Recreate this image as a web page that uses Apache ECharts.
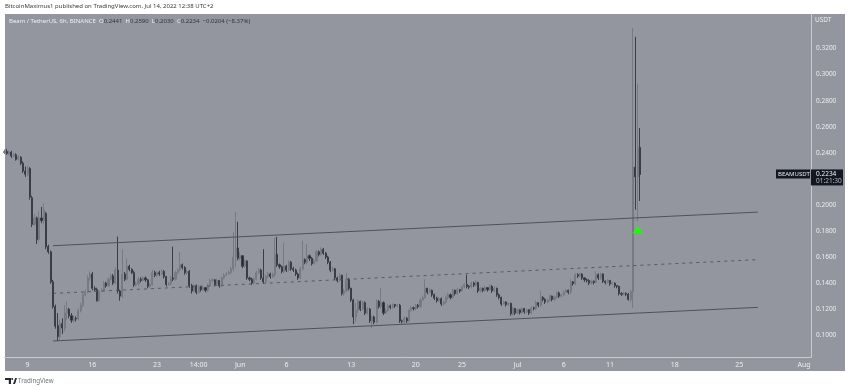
<!DOCTYPE html>
<html><head><meta charset="utf-8">
<style>html,body{margin:0;padding:0;background:#fff}#c{width:850px;height:390px}</style>
<script src="https://cdn.jsdelivr.net/npm/echarts@6/dist/echarts.min.js"></script>
</head><body><div id="c"></div>
<script>
const opens=[
.2400,.2410,.2395,.2405,.2375,.2385,.2350,.2365,.2320,.2260,
.2235,.2280,.2055,.1850,.1900,.1735,.1900,.1880,.1935,.1680,
.1640,.1410,.1220,.1075,.0990,.1090,.1055,.1170,.1200,.1150,
.1115,.1130,.1125,.1190,.1230,.1310,.1335,.1440,.1470,.1360,
.1350,.1265,.1340,.1345,.1400,.1380,.1430,.1455,.1400,.1500,
.1340,.1300,.1470,.1430,.1530,.1505,.1480,.1385,.1395,.1430,
.1420,.1440,.1425,.1375,.1390,.1480,.1460,.1480,.1470,.1490,
.1450,.1390,.1395,.1440,.1430,.1480,.1500,.1540,.1520,.1480,
.1490,.1380,.1340,.1380,.1330,.1370,.1350,.1365,.1345,.1380,
.1420,.1425,.1390,.1420,.1380,.1440,.1460,.1470,.1480,.1510,
.1600,.1670,.1590,.1610,.1530,.1570,.1440,.1430,.1400,.1430,
.1480,.1500,.1440,.1410,.1450,.1470,.1450,.1465,.1620,.1540,
.1525,.1490,.1530,.1500,.1560,.1510,.1500,.1470,.1440,.1510,
.1580,.1560,.1610,.1590,.1550,.1570,.1640,.1620,.1660,.1630,
.1600,.1560,.1500,.1510,.1440,.1420,.1460,.1320,.1340,.1430,
.1360,.1270,.1140,.1190,.1260,.1200,.1250,.1170,.1200,.1110,
.1140,.1100,.1260,.1220,.1250,.1170,.1190,.1225,.1215,.1235,
.1225,.1230,.1110,.1105,.1130,.1110,.1190,.1210,.1205,.1230,
.1220,.1270,.1290,.1360,.1330,.1345,.1310,.1285,.1265,.1280,
.1240,.1255,.1290,.1310,.1290,.1345,.1320,.1350,.1340,.1370,
.1390,.1375,.1370,.1400,.1385,.1405,.1340,.1360,.1345,.1365,
.1350,.1375,.1340,.1360,.1310,.1290,.1240,.1255,.1235,.1245,
.1165,.1205,.1170,.1195,.1175,.1205,.1180,.1195,.1170,.1210,
.1205,.1250,.1230,.1290,.1275,.1255,.1270,.1300,.1275,.1295,
.1325,.1300,.1310,.1330,.1345,.1330,.1410,.1395,.1465,.1455,
.1470,.1440,.1425,.1420,.1400,.1415,.1405,.1465,.1440,.1470,
.1415,.1405,.1420,.1395,.1400,.1380,.1375,.1320,.1315,.1320,
.1315,.1275,.1335,.2290,.2215,.2441];
const closes=[
.2410,.2395,.2405,.2375,.2385,.2350,.2365,.2320,.2260,.2235,
.2280,.2060,.1850,.1900,.1735,.1900,.1880,.1960,.1680,.1640,
.1410,.1220,.1070,.0990,.1090,.1055,.1170,.1200,.1150,.1115,
.1130,.1125,.1190,.1230,.1310,.1335,.1440,.1470,.1360,.1350,
.1265,.1340,.1345,.1400,.1380,.1430,.1455,.1400,.1500,.1340,
.1300,.1470,.1430,.1530,.1505,.1480,.1385,.1395,.1430,.1420,
.1440,.1425,.1375,.1390,.1480,.1460,.1480,.1470,.1490,.1450,
.1390,.1395,.1440,.1430,.1480,.1500,.1540,.1520,.1480,.1490,
.1380,.1340,.1380,.1330,.1370,.1350,.1365,.1345,.1380,.1420,
.1425,.1390,.1420,.1380,.1440,.1460,.1470,.1480,.1510,.1600,
.1670,.1590,.1610,.1530,.1570,.1440,.1430,.1400,.1430,.1480,
.1500,.1440,.1410,.1450,.1470,.1450,.1465,.1620,.1540,.1525,
.1490,.1530,.1500,.1560,.1510,.1500,.1470,.1440,.1510,.1580,
.1560,.1610,.1590,.1550,.1570,.1640,.1620,.1660,.1630,.1600,
.1560,.1500,.1510,.1440,.1420,.1460,.1320,.1340,.1430,.1360,
.1270,.1140,.1190,.1260,.1200,.1250,.1170,.1200,.1110,.1140,
.1100,.1260,.1220,.1250,.1170,.1190,.1225,.1215,.1235,.1225,
.1230,.1110,.1105,.1130,.1110,.1190,.1210,.1205,.1230,.1220,
.1270,.1290,.1360,.1330,.1345,.1310,.1285,.1265,.1280,.1240,
.1255,.1290,.1310,.1290,.1345,.1320,.1350,.1340,.1370,.1390,
.1375,.1370,.1400,.1385,.1405,.1340,.1360,.1345,.1365,.1350,
.1375,.1340,.1360,.1310,.1290,.1240,.1255,.1235,.1245,.1165,
.1205,.1170,.1195,.1175,.1205,.1180,.1195,.1170,.1210,.1205,
.1250,.1230,.1290,.1275,.1255,.1270,.1300,.1275,.1295,.1325,
.1300,.1310,.1330,.1345,.1330,.1410,.1395,.1465,.1455,.1470,
.1440,.1425,.1420,.1400,.1415,.1405,.1465,.1440,.1470,.1415,
.1405,.1420,.1395,.1400,.1380,.1375,.1320,.1315,.1320,.1315,
.1275,.1335,.2290,.2215,.2441,.2234];
const highs=[
.2425,.2430,.2420,.2415,.2400,.2395,.2380,.2375,.2335,.2295,
.2300,.2290,.2070,.1930,.1910,.1950,.1985,.2010,.1945,.1695,
.1650,.1425,.1235,.1170,.1120,.1130,.1230,.1260,.1210,.1170,
.1150,.1145,.1205,.1250,.1325,.1350,.1460,.1490,.1485,.1375,
.1365,.1350,.1360,.1415,.1410,.1445,.1470,.1470,.1520,.1757,
.1350,.1660,.1485,.1590,.1540,.1515,.1495,.1410,.1445,.1445,
.1455,.1450,.1430,.1400,.1500,.1495,.1495,.1495,.1505,.1500,
.1455,.1410,.1455,.1680,.1495,.1515,.1640,.1550,.1530,.1505,
.1500,.1395,.1395,.1390,.1385,.1380,.1375,.1370,.1395,.1435,
.1440,.1430,.1435,.1425,.1450,.1475,.1485,.1495,.1525,.1790,
.1945,.1870,.1640,.1615,.1585,.1575,.1450,.1440,.1445,.1495,
.1515,.1510,.1660,.1465,.1485,.1480,.1480,.1748,.1755,.1550,
.1535,.1710,.1540,.1575,.1570,.1525,.1510,.1480,.1525,.1725,
.1590,.1700,.1620,.1600,.1585,.1655,.1650,.1675,.1670,.1640,
.1610,.1570,.1525,.1515,.1450,.1475,.1465,.1355,.1480,.1440,
.1365,.1280,.1250,.1275,.1265,.1265,.1260,.1215,.1210,.1150,
.1150,.1275,.1270,.1365,.1260,.1205,.1240,.1235,.1245,.1240,
.1240,.1240,.1120,.1145,.1140,.1200,.1225,.1220,.1240,.1240,
.1285,.1305,.1430,.1365,.1360,.1350,.1320,.1295,.1295,.1290,
.1265,.1305,.1325,.1320,.1355,.1350,.1365,.1355,.1380,.1400,
.1465,.1385,.1410,.1410,.1420,.1410,.1370,.1365,.1380,.1370,
.1390,.1385,.1375,.1365,.1320,.1295,.1265,.1260,.1255,.1250,
.1220,.1210,.1205,.1200,.1215,.1210,.1205,.1200,.1220,.1220,
.1265,.1255,.1340,.1300,.1285,.1280,.1310,.1305,.1305,.1335,
.1335,.1320,.1345,.1355,.1350,.1430,.1415,.1475,.1475,.1480,
.1475,.1445,.1435,.1430,.1425,.1420,.1490,.1475,.1480,.1475,
.1420,.1430,.1425,.1410,.1405,.1385,.1380,.1330,.1335,.1330,
.1325,.1345,.3357,.3290,.2929,.2590];
const lows=[
.2390,.2385,.2385,.2360,.2365,.2340,.2340,.2305,.2245,.2215,
.2220,.2040,.1830,.1840,.1700,.1720,.1860,.1850,.1660,.1625,
.1395,.1205,.1050,.0955,.0965,.1010,.1030,.1120,.1130,.1095,
.1100,.1105,.1115,.1175,.1215,.1300,.1320,.1420,.1345,.1335,
.1258,.1255,.1330,.1335,.1365,.1370,.1420,.1385,.1390,.1320,
.1265,.1285,.1415,.1420,.1490,.1470,.1370,.1375,.1380,.1405,
.1415,.1410,.1360,.1365,.1380,.1445,.1450,.1455,.1460,.1435,
.1375,.1380,.1385,.1415,.1420,.1470,.1490,.1505,.1465,.1465,
.1365,.1320,.1330,.1315,.1320,.1335,.1345,.1330,.1335,.1370,
.1405,.1375,.1380,.1365,.1370,.1430,.1455,.1465,.1470,.1490,
.1520,.1575,.1575,.1515,.1520,.1425,.1415,.1385,.1390,.1420,
.1470,.1425,.1395,.1400,.1440,.1435,.1440,.1450,.1525,.1510,
.1475,.1475,.1485,.1490,.1495,.1485,.1455,.1425,.1430,.1495,
.1545,.1545,.1570,.1535,.1540,.1560,.1605,.1610,.1615,.1585,
.1545,.1485,.1490,.1425,.1405,.1410,.1305,.1300,.1330,.1345,
.1255,.1085,.1100,.1170,.1185,.1190,.1155,.1160,.1095,.1055,
.1085,.1090,.1205,.1205,.1155,.1165,.1180,.1200,.1205,.1210,
.1215,.1095,.1090,.1090,.1095,.1100,.1180,.1190,.1190,.1205,
.1210,.1270,.1280,.1315,.1320,.1295,.1270,.1250,.1255,.1225,
.1230,.1245,.1275,.1275,.1280,.1305,.1310,.1325,.1335,.1360,
.1360,.1355,.1360,.1370,.1375,.1325,.1330,.1330,.1335,.1335,
.1340,.1325,.1330,.1295,.1275,.1225,.1235,.1220,.1225,.1150,
.1150,.1155,.1160,.1160,.1165,.1165,.1170,.1155,.1160,.1190,
.1195,.1215,.1220,.1260,.1240,.1245,.1260,.1260,.1265,.1285,
.1285,.1290,.1300,.1325,.1315,.1315,.1380,.1385,.1440,.1445,
.1425,.1410,.1405,.1385,.1390,.1390,.1400,.1425,.1425,.1400,
.1390,.1395,.1380,.1385,.1365,.1360,.1305,.1300,.1305,.1300,
.1265,.1255,.1210,.1963,.1873,.2030];

const barCount=350;
const tickIndexes=[10,38,66,84,102,122,150,178,198,222,242,262,290,318,346];
const tickLabels=['9','16','23','14:00','Jun','6','13','20','25','Jul','6','11','18','25','Aug'];
const priceTicks=[.10,.12,.14,.16,.18,.20,.22,.24,.26,.28,.30,.32];
const upperLine=[[21,.1687],[326,.1945]];
const middleLine=[[21,.1321],[326,.1580]];
const lowerLine=[[21,.0956],[326,.1214]];
const signalPoint=[[274,.1812]];
const lastPrice=.2234;

const categories=[];for(let i=0;i<barCount;i++)categories.push('b'+i);
const candles=opens.map((o,i)=>[o,closes[i],lows[i],highs[i]]);
const lineSeries=(data,type)=>({type:'line',data,showSymbol:false,silent:true,z:4,
  lineStyle:type==='solid'?{color:'#50525b',width:1,type}:{color:'#50525b',width:0.9,type:[3,4]}});

const chart=echarts.init(document.getElementById('c'),null,{renderer:'canvas'});
const FONT='"Noto Sans",sans-serif';
chart.setOption({
  animation:false,backgroundColor:'#fff',
  grid:{left:4.5,right:39,top:14,bottom:33,containLabel:false},
  xAxis:{type:'category',data:categories,boundaryGap:false,
    axisLine:{show:true,lineStyle:{color:'#c9cbd1',width:1}},
    axisTick:{show:false},splitLine:{show:false},
    axisLabel:{color:'#eceef2',fontSize:7,fontFamily:FONT,margin:4,hideOverlap:false,
      interval:(i)=>tickIndexes.includes(i),
      formatter:(v,i)=>tickLabels[tickIndexes.indexOf(i)]||''}},
  yAxis:{type:'value',position:'right',min:.0833,max:.3465,scale:true,
    axisLine:{show:true,lineStyle:{color:'#c9cbd1',width:1}},
    axisTick:{show:false,customValues:priceTicks},splitLine:{show:false},
    axisLabel:{color:'#eceef2',fontSize:6.5,fontFamily:FONT,margin:5,
      customValues:priceTicks,formatter:(v)=>v.toFixed(4)}},
  series:[
    {type:'candlestick',data:candles,barWidth:1.6,z:3,
      itemStyle:{color:'#777a84',color0:'#262933',borderColor:'#777a84',borderColor0:'#3a3d47',borderWidth:1}},
    lineSeries(upperLine,'solid'),lineSeries(middleLine,'dashed'),lineSeries(lowerLine,'solid'),
    {type:'scatter',data:signalPoint,symbol:'triangle',symbolSize:[11,8],z:6,itemStyle:{color:'#22f50c',opacity:1}}
  ]
});
const py=chart.convertToPixel({yAxisIndex:0},lastPrice);
chart.setOption({graphic:[
  {type:'rect',z:-10,silent:true,shape:{x:5,y:14,width:840,height:357},style:{fill:'#93959f'}},
  {type:'text',x:5,y:6,style:{text:'BitcoinMaximus1 published on TradingView.com, Jul 14, 2022 12:38 UTC+2',fill:'#3a3a3a',font:'6px '+FONT,textVerticalAlign:'middle'}},
  {type:'text',x:9,y:21,z:10,style:{textVerticalAlign:'middle',
    rich:{w:{fill:'#eef0f4',font:'6px '+FONT},d:{fill:'#33353d',font:'6px '+FONT}},
    text:'{w|Beam / TetherUS, 6h, BINANCE  O}{d|0.2441}{w|  H}{d|0.2590}{w|  L}{d|0.2030}{w|  C}{d|0.2234  −0.0204 (−8.37%)}'}},
  {type:'text',x:815,y:20.5,z:10,style:{text:'USDT',fill:'#eceef2',font:'6.5px '+FONT,textVerticalAlign:'middle'}},
  {type:'rect',z:10,shape:{x:776,y:py-5,width:34,height:9},style:{fill:'#131722'}},
  {type:'text',x:778,y:py-0.5,z:11,style:{text:'BEAMUSDT',fill:'#e8e9ee',font:'6px '+FONT,textVerticalAlign:'middle'}},
  {type:'rect',z:10,shape:{x:811,y:py-5,width:32,height:16},style:{fill:'#131722'}},
  {type:'text',x:816,y:py-0.5,z:11,style:{text:String(lastPrice.toFixed(4)),fill:'#eef0f4',font:'6.5px '+FONT,textVerticalAlign:'middle'}},
  {type:'text',x:816,y:py+6.5,z:11,style:{text:'01:21:30',fill:'#b9bbc2',font:'6.5px '+FONT,textVerticalAlign:'middle'}},
  {type:'polygon',z:10,shape:{points:[[5,378],[11,378],[11,384],[8.8,384],[8.8,380],[5,380]]},style:{fill:'#26282e'}},
  {type:'circle',z:10,shape:{cx:12.2,cy:379,r:1},style:{fill:'#26282e'}},
  {type:'polygon',z:10,shape:{points:[[13,384],[15.2,378],[17,378],[15,384]]},style:{fill:'#26282e'}},
  {type:'text',x:18,y:381,z:10,style:{text:'TradingView',fill:'#6f7178',font:'6.2px '+FONT,textVerticalAlign:'middle'}}
]});
</script></body></html>
